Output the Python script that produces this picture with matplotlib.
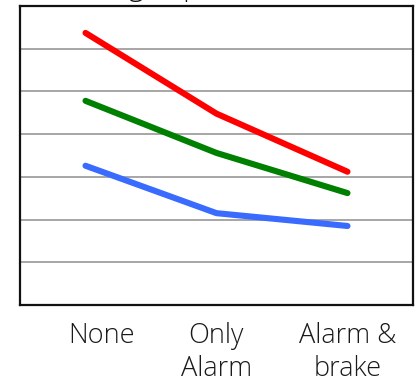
import matplotlib
matplotlib.use("Agg")
import matplotlib.pyplot as plt
import matplotlib.transforms as mtransforms

plt.rcParams['font.family'] = ['Open Sans', 'DejaVu Sans']

# Warning system conditions
conditions = ["None", "Only\nAlarm", "Alarm &\nbrake"]

# Average values per group
series_red = [6.37, 4.48, 3.12]
series_green = [4.78, 3.56, 2.62]
series_blue = [3.26, 2.15, 1.85]

W, H = 420, 382
fig = plt.figure(figsize=(W / 100, H / 100), dpi=100)
ax = fig.add_axes([20 / W, (H - 305) / H, (413 - 20) / W, (305 - 6) / H])

x = range(len(conditions))
for vals, col in [(series_red, "#FF0000"), (series_green, "#008000"), (series_blue, "#3A6BFF")]:
    ax.plot(x, vals, color=col, lw=4.4, solid_capstyle="round", solid_joinstyle="round", zorder=3)

ax.set_xlim(-0.5, len(conditions) - 0.5)
ax.set_ylim(0, 7)
ax.set_yticks(range(1, 7))
ax.yaxis.grid(True, color="#A6A6A6", lw=1.4)
ax.set_axisbelow(True)
ax.tick_params(axis="y", left=False, labelleft=False)
ax.tick_params(axis="x", bottom=False, pad=9)
ax.set_xticks(list(x))
ax.set_xticklabels(conditions, fontsize=19.5, color="#1a1a1a", linespacing=1.2,
                   fontweight="light")
for sp in ax.spines.values():
    sp.set_linewidth(1.6)
    sp.set_color("#111111")

# nudge the first category label to the right
lbl = ax.get_xticklabels()[0]
lbl.set_transform(lbl.get_transform() + mtransforms.ScaledTranslation(16 / 100, 0, fig.dpi_scale_trans))

fig.text(52 / W, 1 + 6.5 / H, "Average speed", ha="left", va="baseline",
         fontsize=22, color="#111111", fontweight="light")

fig.savefig("out.png", dpi=100)
